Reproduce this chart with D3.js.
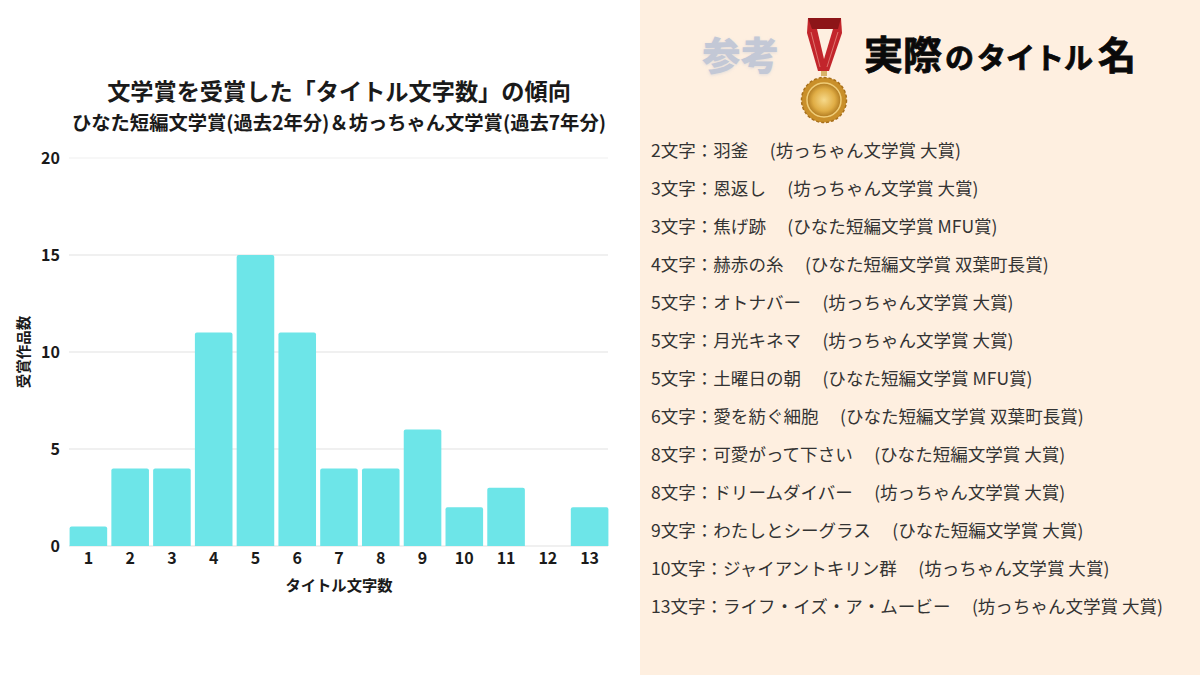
<!DOCTYPE html>
<html>
<head>
<meta charset="utf-8">
<script src="https://cdn.jsdelivr.net/npm/d3@7"></script>
<style>
html, body { margin: 0; padding: 0; background: #fff; }
svg { display: block; }
text { font-family: "Noto Sans CJK JP", "Noto Sans", sans-serif; }
</style>
</head>
<body>
<div id="viz"></div>
<script>
const WIDTH = 1200;
const HEIGHT = 675;
const CJK = '"Noto Sans CJK JP", "Noto Sans", sans-serif';
const PANEL = '#feefe0';

// chart data
const charCounts = ['1', '2', '3', '4', '5', '6', '7', '8', '9', '10', '11', '12', '13'];
const winnerCounts = [1, 4, 4, 11, 15, 11, 4, 4, 6, 2, 3, 0, 2];
const yTicks = [0, 5, 10, 15, 20];

// list on the right
const listLengths = ['2文字', '3文字', '3文字', '4文字', '5文字', '5文字', '5文字', '6文字', '8文字', '8文字', '9文字', '10文字', '13文字'];
const listTitles = ['羽釜', '恩返し', '焦げ跡', '赫赤の糸', 'オトナバー', '月光キネマ', '土曜日の朝', '愛を紡ぐ細胞', '可愛がって下さい', 'ドリームダイバー', 'わたしとシーグラス', 'ジャイアントキリン群', 'ライフ・イズ・ア・ムービー'];
const listAwards = ['坊っちゃん文学賞 大賞', '坊っちゃん文学賞 大賞', 'ひなた短編文学賞 MFU賞', 'ひなた短編文学賞 双葉町長賞', '坊っちゃん文学賞 大賞', '坊っちゃん文学賞 大賞', 'ひなた短編文学賞 MFU賞', 'ひなた短編文学賞 双葉町長賞', 'ひなた短編文学賞 大賞', '坊っちゃん文学賞 大賞', 'ひなた短編文学賞 大賞', '坊っちゃん文学賞 大賞', '坊っちゃん文学賞 大賞'];

const svg = d3.select('#viz').append('svg')
  .attr('width', WIDTH)
  .attr('height', HEIGHT);

const defs = svg.append('defs');
defs.append('filter').attr('id', 'soft')
  .append('feGaussianBlur').attr('stdDeviation', 1.6);

const gold = defs.append('radialGradient').attr('id', 'gold');
gold.append('stop').attr('offset', '0%').attr('stop-color', '#f6d98a');
gold.append('stop').attr('offset', '65%').attr('stop-color', '#e0ad45');
gold.append('stop').attr('offset', '100%').attr('stop-color', '#b07a20');

svg.append('rect').attr('width', 640).attr('height', HEIGHT).attr('fill', '#ffffff');
svg.append('rect').attr('x', 640).attr('width', 560).attr('height', HEIGHT).attr('fill', PANEL);

// left: bar chart
const x = d3.scaleBand().domain(charCounts).range([67.5, 610.5]).paddingInner(0.1).paddingOuter(0.05);
const y = d3.scaleLinear().domain([0, 20]).range([546, 158]);

svg.append('g').attr('class', 'grid')
  .selectAll('line').data(yTicks).join('line')
  .attr('x1', 69).attr('x2', 608)
  .attr('y1', d => y(d)).attr('y2', d => y(d))
  .attr('stroke', d => (d === 20 ? '#f0f0f0' : '#e2e2e2'))
  .attr('stroke-width', 1.2);

const barTop = d => y(d);
svg.append('g').attr('class', 'bars')
  .selectAll('path').data(winnerCounts).join('path')
  .attr('d', (d, i) => {
    if (d === 0) return null;
    const x0 = x(charCounts[i]);
    const x1 = x0 + x.bandwidth();
    const r = 2;
    return `M${x0},${y(0)}V${barTop(d) + r}Q${x0},${barTop(d)} ${x0 + r},${barTop(d)}H${x1 - r}Q${x1},${barTop(d)} ${x1},${barTop(d) + r}V${y(0)}Z`;
  })
  .attr('fill', '#6de5e8');

const yAxis = svg.append('g')
  .attr('transform', 'translate(60,0)')
  .call(d3.axisLeft(y).tickValues(yTicks).tickSize(0).tickPadding(0));
const xAxis = svg.append('g')
  .attr('transform', 'translate(0,546)')
  .call(d3.axisBottom(x).tickSize(0).tickPadding(7));
[yAxis, xAxis].forEach(a => {
  a.select('.domain').remove();
  a.selectAll('text')
    .attr('font-family', CJK)
    .attr('font-size', 16)
    .attr('font-weight', 700)
    .attr('fill', '#1a1a1a');
});

svg.append('text')
  .attr('x', 339).attr('y', 100)
  .attr('text-anchor', 'middle')
  .attr('font-size', 23.2).attr('font-weight', 700).attr('fill', '#1a1a1a')
  .text('文学賞を受賞した「タイトル文字数」の傾向');
svg.append('text')
  .attr('x', 339).attr('y', 130)
  .attr('text-anchor', 'middle')
  .attr('font-size', 19.3).attr('font-weight', 700).attr('fill', '#1a1a1a')
  .text('ひなた短編文学賞(過去2年分)＆坊っちゃん文学賞(過去7年分)');
svg.append('text')
  .attr('x', 339).attr('y', 591)
  .attr('text-anchor', 'middle')
  .attr('font-size', 15.3).attr('font-weight', 700).attr('fill', '#1a1a1a')
  .text('タイトル文字数');
svg.append('text')
  .attr('transform', 'translate(29,352) rotate(-90)')
  .attr('text-anchor', 'middle')
  .attr('font-size', 14.5).attr('font-weight', 700).attr('fill', '#1a1a1a')
  .text('受賞作品数');

// right: heading
const head = svg.append('g').attr('class', 'heading');
head.append('text')
  .attr('x', 702).attr('y', 71)
  .attr('font-size', 38.5).attr('font-weight', 900).attr('fill', '#c3c8d6')
  .attr('filter', 'url(#soft)').attr('opacity', 0.5)
  .text('参考');
head.append('text')
  .attr('x', 702).attr('y', 70)
  .attr('font-size', 38.5).attr('font-weight', 900).attr('fill', '#c3c8d6')
  .text('参考');

const headParts = [
  { t: '実際', x: 864, size: 39 },
  { t: 'の', x: 945, size: 29 },
  { t: 'タイトル', x: 977, size: 29 },
  { t: '名', x: 1098, size: 38 }
];
head.selectAll('text.part').data(headParts).join('text')
  .attr('class', 'part')
  .attr('x', d => d.x).attr('y', 69)
  .attr('font-size', d => d.size).attr('font-weight', 700)
  .attr('fill', '#0a0a0a').attr('stroke', '#0a0a0a').attr('stroke-width', 0.8)
  .text(d => d.t);

// medal
const medal = svg.append('g').attr('class', 'medal');
medal.append('path').attr('d', 'M808,18H841L842,33L829,71H818L807,33Z').attr('fill', '#c2252b');
medal.append('path').attr('d', 'M817,29H833L824,59Z').attr('fill', PANEL);
medal.append('path').attr('d', 'M808,18H841L838,29H812Z').attr('fill', '#8d1518');
medal.append('path').attr('d', 'M811,32L820,67M838,32L827,67').attr('stroke', '#e58a80').attr('stroke-width', 0.8).attr('fill', 'none');
medal.append('rect').attr('x', 821).attr('y', 71).attr('width', 6).attr('height', 5).attr('fill', '#d8b36a');
medal.append('circle').attr('cx', 824).attr('cy', 100).attr('r', 22.5)
  .attr('fill', '#c98f2a').attr('stroke', '#a8701c').attr('stroke-width', 1.5).attr('stroke-dasharray', '3 2');
medal.append('circle').attr('cx', 824).attr('cy', 100).attr('r', 17)
  .attr('fill', 'url(#gold)').attr('stroke', '#f0cd78').attr('stroke-width', 1.5);

// right: list of titles
const rows = svg.append('g').attr('class', 'list')
  .selectAll('text').data(listTitles).join('text')
  .attr('x', 651)
  .attr('y', (d, i) => 156.5 + i * 38)
  .attr('font-size', 17.55)
  .attr('fill', '#333333')
  .style('white-space', 'pre');
rows.text((d, i) => `${listLengths[i]}：${d}　 (${listAwards[i]})`);
</script>
</body>
</html>
